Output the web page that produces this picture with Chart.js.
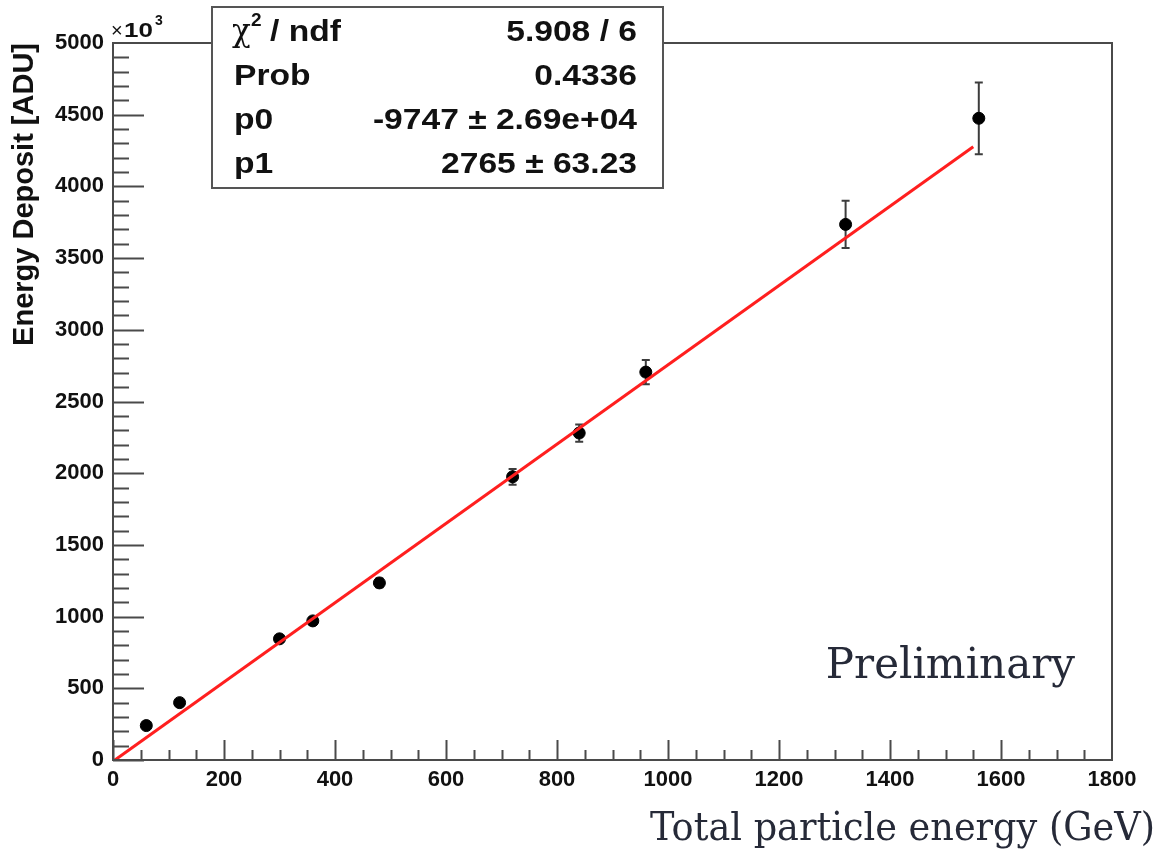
<!DOCTYPE html>
<html>
<head>
<meta charset="utf-8">
<script src="https://cdn.jsdelivr.net/npm/chart.js@4.4.1/dist/chart.umd.min.js"></script>
<style>
html, body { margin: 0; padding: 0; background: #fff; }
#wrap { position: relative; width: 1161px; height: 849px; }
</style>
</head>
<body>
<div id="wrap"><canvas id="calib"></canvas></div>
<script>
// beam energy (GeV) vs. summed deposit (x10^3 ADU)
var energies = [60, 120, 300, 360, 480, 720, 840, 960, 1320, 1560];
var deposits = [240, 400, 845, 970, 1235, 1975, 2280, 2705, 3735, 4475];
var depositErr = [15, 18, 20, 25, 30, 55, 60, 85, 165, 250];

// pol1 fit result, in ADU
var fitValues = [-9747, 2765];
var fitRange = [0, 1550];
var statLabels = ['Prob', 'p0', 'p1'];
var statValues = ['0.4336', '-9747 \u00b1 2.69e+04', '2765 \u00b1 63.23'];
var chi2Text = '5.908 / 6';

// axis ticks
var xTicks = [0, 200, 400, 600, 800, 1000, 1200, 1400, 1600, 1800];
var yTicks = [0, 500, 1000, 1500, 2000, 2500, 3000, 3500, 4000, 4500, 5000];

var SANS = "'Liberation Sans', Arial, Helvetica, sans-serif";
var SERIF = "'DejaVu Serif', Georgia, serif";
var FRAME = '#4a4a4a';

var points = energies.map(function (e, i) { return { x: e, y: deposits[i] }; });
var fitLine = fitRange.map(function (e) {
    return { x: e, y: (fitValues[0] + fitValues[1] * e) / 1000 };
});

// text stretched sideways (root's helvetica runs wider than ours)
function wideText(ctx, txt, x, y, sx) {
    ctx.save();
    ctx.translate(x, y);
    ctx.scale(sx, 1);
    ctx.fillText(txt, 0, 0);
    ctx.restore();
}

// error bars under the markers
var errorBars = {
    id: 'errorBars',
    beforeDatasetsDraw: function (chart) {
        var ctx = chart.ctx, xs = chart.scales.x, ys = chart.scales.y;
        ctx.save();
        ctx.strokeStyle = '#3c3c3c';
        ctx.lineWidth = 2;
        energies.forEach(function (e, i) {
            var px = xs.getPixelForValue(e);
            var lo = ys.getPixelForValue(deposits[i] - depositErr[i]);
            var hi = ys.getPixelForValue(deposits[i] + depositErr[i]);
            ctx.beginPath();
            ctx.moveTo(px, lo); ctx.lineTo(px, hi);
            ctx.moveTo(px - 4, lo); ctx.lineTo(px + 4, lo);
            ctx.moveTo(px - 4, hi); ctx.lineTo(px + 4, hi);
            ctx.stroke();
        });
        ctx.restore();
    }
};

// frame, inward ticks, stats box and the slide labels
var decorations = {
    id: 'decorations',
    afterDraw: function (chart) {
        var ctx = chart.ctx, a = chart.chartArea;
        var xs = chart.scales.x, ys = chart.scales.y;
        ctx.save();
        ctx.strokeStyle = FRAME;
        ctx.lineWidth = 2;
        ctx.strokeRect(a.left, a.top, a.right - a.left, a.bottom - a.top);

        ctx.beginPath();
        for (var v = 0; v < 1800; v += 50) {
            var px = Math.round(xs.getPixelForValue(v)) + 0.5;
            var len = (v % 200 === 0) ? 20 : 10;
            ctx.moveTo(px, a.bottom); ctx.lineTo(px, a.bottom - len);
        }
        for (var w = 0; w < 5000; w += 100) {
            var py = Math.round(ys.getPixelForValue(w)) + 0.5;
            var l2 = (w % 500 === 0) ? 31 : 16;
            ctx.moveTo(a.left, py); ctx.lineTo(a.left + l2, py);
        }
        ctx.stroke();

        // x10^3 exponent
        ctx.fillStyle = '#111';
        ctx.textBaseline = 'alphabetic';
        ctx.textAlign = 'left';
        ctx.font = '20px ' + SANS;
        ctx.fillText('\u00d7', 111, 37);
        ctx.font = 'bold 20px ' + SANS;
        wideText(ctx, '10', 124, 37, 1.3);
        ctx.font = 'bold 14px ' + SANS;
        ctx.fillText('3', 155, 25);

        // fit statistics box
        var bx = 212, by = 7, bw = 451, bh = 181;
        ctx.fillStyle = '#fff';
        ctx.fillRect(bx, by, bw, bh);
        ctx.strokeStyle = '#555';
        ctx.lineWidth = 2;
        ctx.strokeRect(bx, by, bw, bh);

        ctx.fillStyle = '#111';
        var rowY = [41, 85, 129, 173];
        var sx = 1.12;
        ctx.font = '31px ' + SERIF;
        ctx.fillText('\u03c7', 232, rowY[0]);
        ctx.font = 'bold 19px ' + SANS;
        ctx.fillText('2', 251, rowY[0] - 15);
        ctx.font = 'bold 30px ' + SANS;
        wideText(ctx, '/ ndf', 270, rowY[0], sx);
        statLabels.forEach(function (s, i) { wideText(ctx, s, 234, rowY[i + 1], sx); });
        ctx.textAlign = 'right';
        wideText(ctx, chi2Text, 637, rowY[0], sx);
        statValues.forEach(function (s, i) { wideText(ctx, s, 637, rowY[i + 1], sx); });

        // slide annotations
        ctx.fillStyle = '#262a38';
        ctx.font = '42px ' + SERIF;
        ctx.fillText('Preliminary', 1075, 678, 250);
        ctx.font = '39px ' + SERIF;
        ctx.fillText('Total particle energy (GeV)', 1155, 840, 505);
        ctx.restore();
    }
};

new Chart(document.getElementById('calib'), {
    type: 'scatter',
    data: {
        datasets: [
            {
                label: 'fit',
                data: fitLine,
                showLine: true,
                borderColor: '#ff1f1f',
                borderWidth: 3,
                pointRadius: 0,
                order: 0
            },
            {
                label: 'data',
                data: points,
                backgroundColor: '#000',
                borderColor: '#000',
                pointRadius: 6,
                order: 1
            }
        ]
    },
    options: {
        responsive: true,
        maintainAspectRatio: false,
        animation: false,
        layout: { padding: { left: 0, top: 43, right: 49, bottom: 0 } },
        plugins: {
            legend: { display: false },
            tooltip: { enabled: false }
        },
        scales: {
            x: {
                type: 'linear',
                min: 0,
                max: 1800,
                afterFit: function (s) { s.height = 89; },
                afterBuildTicks: function (s) {
                    s.ticks = xTicks.map(function (v) { return { value: v }; });
                },
                grid: { display: false, drawTicks: false },
                border: { display: false },
                ticks: {
                    padding: 7,
                    autoSkip: false,
                    maxRotation: 0,
                    color: '#111',
                    font: { family: SANS, size: 22, weight: 'bold' },
                    callback: function (v) { return String(v); }
                }
            },
            y: {
                type: 'linear',
                min: 0,
                max: 5000,
                afterFit: function (s) { s.width = 113; },
                afterBuildTicks: function (s) {
                    s.ticks = yTicks.map(function (v) { return { value: v }; });
                },
                grid: { display: false, drawTicks: false },
                border: { display: false },
                title: {
                    display: true,
                    text: 'Energy Deposit [ADU]',
                    align: 'end',
                    color: '#111',
                    padding: { top: 8, bottom: 0 },
                    font: { family: SANS, size: 29, weight: 'bold' }
                },
                ticks: {
                    padding: 9,
                    autoSkip: false,
                    color: '#111',
                    font: { family: SANS, size: 22, weight: 'bold' },
                    callback: function (v) { return String(v); }
                }
            }
        }
    },
    plugins: [errorBars, decorations]
});
</script>
</body>
</html>
